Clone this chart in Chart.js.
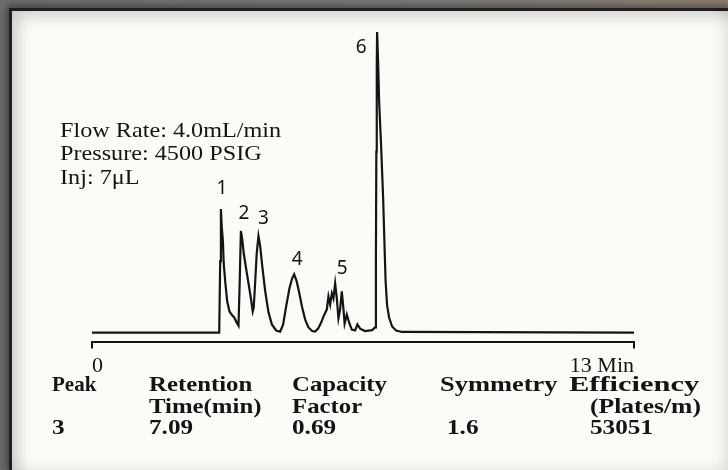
<!DOCTYPE html>
<html>
<head>
<meta charset="utf-8">
<script src="https://cdn.jsdelivr.net/npm/chart.js@4.4.0/dist/chart.umd.min.js"></script>
<style>
  html, body { margin: 0; padding: 0; }
  body { width: 728px; height: 470px; position: relative; overflow: hidden;
         background: linear-gradient(90deg, #6c6c6c 0%, #7a7a7a 55%, #8d7f71 100%); }
  #panel { position: absolute; left: 9px; top: 8px; right: 0; bottom: 0;
           border-left: 3px solid #1f1f1f; border-top: 3px solid #1f1f1f;
           background: #fcfbf7;
           box-shadow: 0 0 8px 2px rgba(0,0,0,0.45),
                       inset 14px 12px 16px -8px rgba(0,0,0,0.20),
                       inset -12px -8px 14px -8px rgba(0,0,0,0.12); }
  #chart { position: absolute; left: 0; top: 0; }
  .txt { position: absolute; white-space: pre; line-height: 1; transform-origin: 0 0;
         color: #141414; font-family: "Liberation Serif", serif; }
</style>
</head>
<body>
<div id="panel"></div>
<canvas id="chart" width="728" height="470"></canvas>
<script>
/* chromatogram trace: time (min) vs detector signal */
const timeMin = [0, 3.03, 3.051, 3.075, 3.092, 3.111, 3.14, 3.159, 3.195, 3.243, 3.298, 3.363, 3.411,
  3.471, 3.514, 3.543, 3.571, 3.603, 3.639, 3.699, 3.754, 3.807, 3.855, 3.879, 3.915, 3.951, 3.993,
  4.034, 4.082, 4.154, 4.233, 4.314, 4.418, 4.513, 4.585, 4.657, 4.736, 4.801, 4.849, 4.909, 4.969,
  5.041, 5.113, 5.192, 5.281, 5.352, 5.424, 5.496, 5.551, 5.633, 5.671, 5.712, 5.753, 5.791, 5.832,
  5.872, 5.911, 5.951, 5.992, 6.03, 6.059, 6.112, 6.174, 6.232, 6.311, 6.366, 6.431, 6.551, 6.718,
  6.79, 6.81, 6.82, 6.83, 6.838, 6.862, 6.886, 6.934, 6.982, 7.018, 7.042, 7.078, 7.126, 7.198,
  7.294, 7.438, 13];
const signal = [0, 0, 0, 23.7, 41, 35.3, 30.3, 23, 17, 10.3, 7, 5.7, 5,
  3.3, 2.3, 17, 33.7, 31, 26.3, 21, 16.3, 11.7, 7, 8.3, 17, 26.3, 32,
  28.7, 22.3, 13.7, 6.7, 2.7, 0.7, 0.3, 2.7, 8.7, 14.7, 18, 19.3, 17, 13.3,
  8.3, 4.3, 1.7, 0.5, 0.3, 1.3, 3.3, 5.3, 7.7, 12, 9.3, 13, 11.3, 16.3,
  11.3, 4.7, 7.7, 13.7, 8, 3, 6, 3, 1, 0.7, 2.7, 1.3, 0.5, 0.8,
  1.7, 25, 60, 88, 99.7, 90, 77, 62, 45, 28, 17, 9, 5, 2,
  0.7, 0.2, 0];

const peakNames = ['1', '2', '3', '4', '5', '6'];
const peakTimes = [3.092, 3.571, 3.993, 4.849, 5.832, 6.838];
const peakHeights = [41, 33.7, 32, 19.3, 16.3, 99.7];

const axisTicks = [0, 13];
const axisTickLabels = ['0', '13 Min'];

const conditions = ['Flow Rate: 4.0mL/min', 'Pressure: 4500 PSIG', 'Inj: 7\u03BCL'];
const tableHead1 = ['Peak', 'Retention', 'Capacity', 'Symmetry', 'Efficiency'];
const tableHead2 = ['', 'Time(min)', 'Factor', '', '(Plates/m)'];
const tableRow = ['3', '7.09', '0.69', '1.6', '53051'];

/* label offsets from each peak apex, px */
const labelShift = [[1, -20], [3, -17], [5, -17], [3, -15], [7, -15], [-16, 16]];

const peakLabels = {
  id: 'peakLabels',
  afterDatasetsDraw(chart) {
    const { ctx, scales } = chart;
    ctx.save();
    ctx.fillStyle = '#141414';
    ctx.font = '19px "Noto Sans"';
    ctx.textAlign = 'center';
    ctx.textBaseline = 'middle';
    peakNames.forEach((n, i) => {
      const x = scales.x.getPixelForValue(peakTimes[i]) + labelShift[i][0];
      const y = scales.y.getPixelForValue(peakHeights[i]) + labelShift[i][1];
      ctx.fillText(n, x, y);
    });
    ctx.restore();
  }
};

new Chart(document.getElementById('chart'), {
  type: 'line',
  data: {
    datasets: [{
      data: timeMin.map((t, i) => ({ x: t, y: signal[i] })),
      borderColor: '#141414',
      borderWidth: 2.2,
      pointRadius: 0,
      tension: 0,
      fill: false
    }]
  },
  options: {
    responsive: false,
    animation: false,
    devicePixelRatio: 1,
    layout: { padding: { left: 92, right: 94, top: 19, bottom: 87 } },
    plugins: { legend: { display: false }, tooltip: { enabled: false } },
    scales: {
      x: {
        type: 'linear',
        min: 0, max: 13,
        afterBuildTicks: s => { s.ticks = axisTicks.map(v => ({ value: v })); },
        ticks: {
          align: 'inner',
          padding: 4,
          color: '#141414',
          font: { family: 'Liberation Serif', size: 22 },
          callback: (v, i) => axisTickLabels[i]
        },
        grid: { drawOnChartArea: false, drawTicks: true, tickLength: 7, color: '#141414', lineWidth: 2 },
        border: { display: true, color: '#141414', width: 2 }
      },
      y: { display: false, min: -3, max: 104 }
    }
  },
  plugins: [peakLabels]
});

/* condition notes and the results table as page text */
function place(text, x, base, size, bold, sx) {
  const d = document.createElement('div');
  d.className = 'txt';
  d.textContent = text;
  d.style.fontSize = size + 'px';
  d.style.fontWeight = bold ? 'bold' : 'normal';
  d.style.left = x + 'px';
  d.style.top = (base - 0.8375 * size) + 'px';
  d.style.transform = 'scaleX(' + sx + ')';
  document.body.appendChild(d);
}

conditions.forEach((c, i) => place(c, 60, 137 + i * 23.5, 22, false, 1.1));

const colX = [52, 149, 292, 440, 569];
const head1Scale = [1.0, 1.18, 1.18, 1.26, 1.45];
tableHead1.forEach((t, i) => place(t, colX[i], 392, 21, true, head1Scale[i]));
tableHead2.forEach((t, i) => { if (t) place(t, colX[i] + (i === 4 ? 21 : 0), 414, 21, true, i === 4 ? 1.22 : 1.18); });
tableRow.forEach((t, i) => place(t, colX[i] + (i === 3 ? 7 : 0) + (i === 4 ? 21 : 0), 435, 21, true, 1.2));
</script>
</body>
</html>
